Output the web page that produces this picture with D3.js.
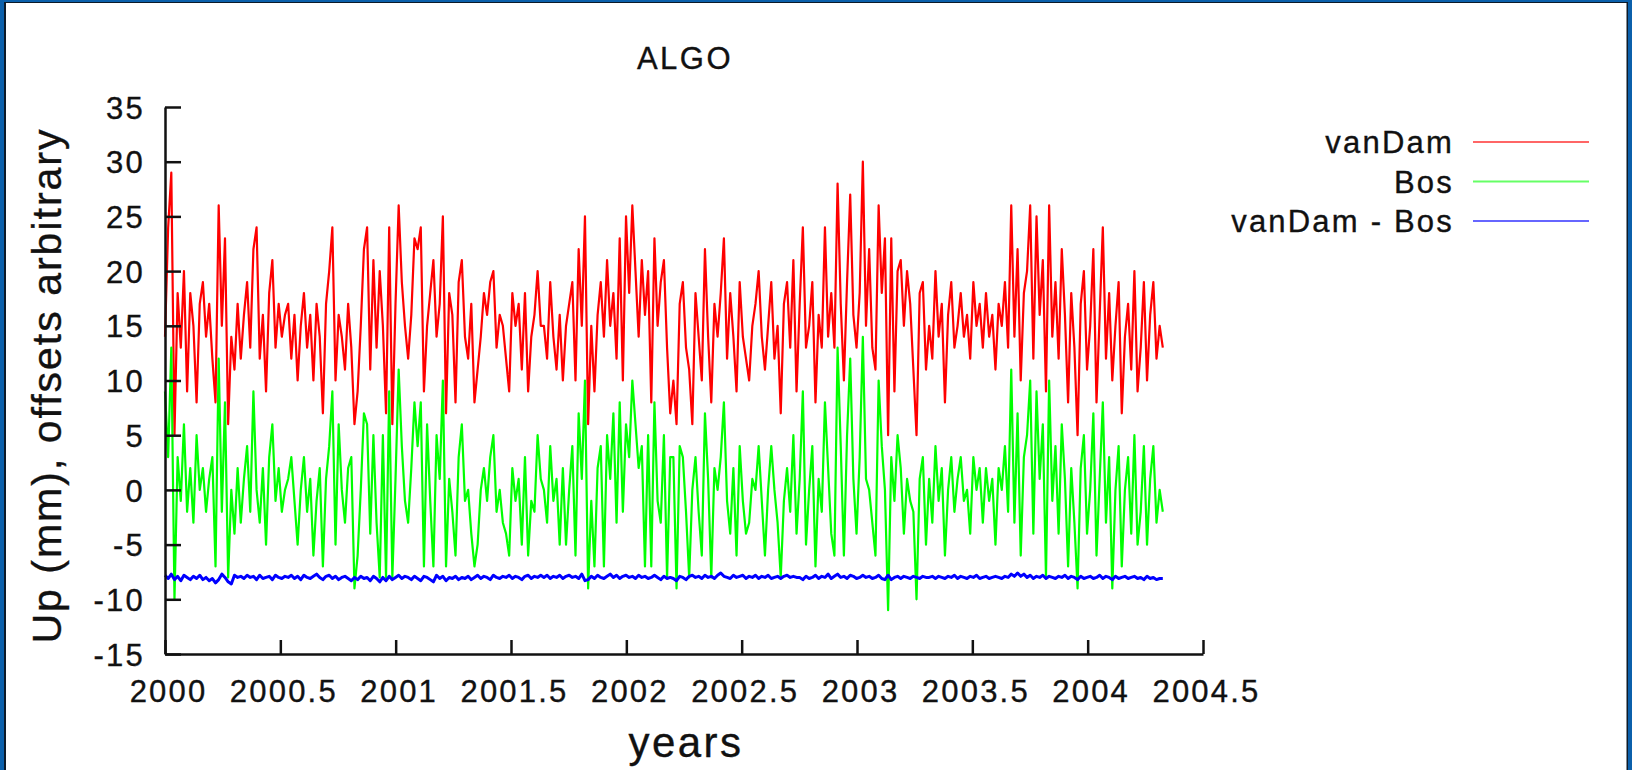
<!DOCTYPE html>
<html><head><meta charset="utf-8">
<script src="https://cdn.jsdelivr.net/npm/d3@7"></script>
<style>
html,body{margin:0;padding:0;background:#fff;}
svg{display:block;}
text{font-family:"Liberation Sans", Arial, Helvetica, sans-serif; fill:#111; stroke:#111; stroke-width:0.35px;}
</style></head><body>
<svg id="chart" width="1632" height="770"></svg>
<script>
// ---- data ----
const title = "ALGO";
const xLabel = "years";
const yLabel = "Up (mm), offsets arbitrary";
const seriesNames = ["vanDam", "Bos", "vanDam - Bos"];
const xTicks = [2000, 2000.5, 2001, 2001.5, 2002, 2002.5, 2003, 2003.5, 2004, 2004.5];
const yTicks = [-15, -10, -5, 0, 5, 10, 15, 20, 25, 30, 35];
const startYear = 2000.0;
const stepDays = 5;

const vanDam = [
 14,24,29,5,18,13,20,9,18,15, 8,17,19,14,17,12,8,26,15,23, 6,14,11,17,12,16,19,13,22,24, 12,16,9,18,21,13,17,14,16,
 17,12,16,10,15,18,13,16,10,17, 14,7,17,20,24,10,16,14,11,17, 13,6,9,15,22,24,11,21,13,20, 15,7,24,6,17,26,19,15,12,16, 23,
 22,24,9,15,18,21,14,17,25,7, 18,16,8,19,21,14,12,17,8,11, 14,18,16,19,20,13,16,15,12,9, 18,15,17,11,18,9,14,16,20,15,
 15,12,19,14,11,16,10,15,17,19, 10,22,15,25,6,15,9,16,19,14, 21,15,18,12,23,10,25,18,26,20, 14,21,16,20,8,23,15,19,21,13, 7,
 10,6,17,19,13,11,6,18,14,10, 22,14,8,17,14,18,23,12,18,14, 9,19,14,12,10,15,17,20,14,11, 15,19,12,15,7,17,19,13,21,9,
 17,24,13,15,19,8,16,13,24,14, 18,13,28,17,10,19,27,16,13,18, 30,15,22,13,11,26,18,23,5,23, 9,20,21,15,20,17,11,5,18,19, 11,
 15,12,20,14,17,8,16,19,13,15, 18,14,16,12,19,15,17,13,18,14, 16,11,17,15,19,13,26,14,22,10, 18,20,26,12,25,16,21,9,26,14,
 19,12,22,16,8,18,13,5,17,20, 11,15,22,8,16,24,12,18,10,15, 19,7,14,17,11,20,9,13,19,10, 16,19,12,15,13
];
const bos = [
 9,3,13,-10,3,-1,6,-2,2,-3, 5,0,2,-2,1,3,-7,12,-2,8, -8,0,-4,2,-3,1,4,-2,9,0, -3,2,-5,3,6,-1,2,-2,0,
 1,3,-1,-5,0,3,-2,1,-6,-1, 2,-7,1,4,9,-5,6,0,-3,2, 3,-9,-6,0,7,6,-4,5,-3,-8, 5,-8,9,-8,1,11,4,-1,-3,2, 8,
 4,8,-7,6,-1,-7,5,1,10,-7, 1,-2,-6,3,6,-1,0,-4,-7,-5, 0,2,-1,3,5,-2,0,-3,-4,-6, 2,-1,1,-5,3,-6,-1,-2,5,1,
 0,-3,4,-1,1,-5,2,-5,0,4, -6,7,1,10,-9,-1,-7,2,4,-7, 5,1,7,-3,8,-2,6,3,10,6, 2,4,-7,5,-7,8,-1,-3,5,-8, 3,
 3,-9,4,3,-2,-8,0,3,-2,-6, 7,1,-8,2,0,3,8,-1,-4,2, -6,4,-1,-4,-3,1,0,4,-1,-6, 0,4,0,-3,-8,-1,2,-2,5,-4,
 1,9,-5,0,4,-7,1,-2,8,2, -4,-6,13,4,-6,5,12,1,-4,3, 14,1,0,-3,-6,10,4,0,-11,3, -1,5,2,-4,1,-1,-2,-10,1,3, -5,
 1,-3,4,-1,2,-6,0,3,-2,1, 3,-1,0,-4,3,0,2,-3,2,-1, 1,-5,2,0,4,-2,11,-3,7,-6, 3,5,10,-4,9,1,6,-8,10,-1,
 4,-4,6,1,-7,2,-3,-9,2,5, -4,0,7,-6,1,8,-3,3,-9,0, 4,-7,0,3,-4,5,-5,-2,4,-5, 1,4,-3,0,-2
];
const vanDamMinusBos = [
 -7.8,-8.1,-7.7,-8.2,-7.9,-8.3,-7.8,-8.0,-8.2,-7.9,-8.1,-7.8,-8.2,-8.0,-8.3,-8.1,-8.5,-8.2,-7.7,-8.0,-8.4,-8.6,-7.8,-8.0,-7.9,-8.1,-7.8,-8.0,-7.9,-8.2,-7.8,-8.1,-8.0,-7.9,-8.2,-7.8,-8.0,-8.1,-7.9,
 -8.0,-7.8,-8.1,-7.9,-8.2,-7.8,-8.0,-8.1,-7.9,-7.7,-8.0,-8.2,-7.9,-7.8,-8.1,-7.9,-8.2,-8.0,-7.9,-8.1,-8.3,-8.0,-8.2,-7.9,-8.1,-8.0,-8.3,-7.9,-8.1,-8.4,-8.0,-8.3,-7.9,-8.2,-8.0,-7.8,-8.1,-7.9,-8.0,-8.2,-7.9,
 -8.1,-8.3,-7.9,-8.0,-8.2,-8.4,-7.8,-8.1,-7.9,-8.3,-8.0,-8.1,-7.9,-8.2,-8.0,-8.1,-7.9,-8.2,-8.0,-7.8,-8.1,-7.9,-8.0,-8.2,-7.8,-8.0,-8.1,-7.9,-8.0,-7.8,-8.1,-7.9,-8.0,-8.2,-7.9,-7.8,-8.1,-7.9,-8.0,-7.8,
 -8.0,-7.8,-8.1,-7.9,-8.0,-7.8,-8.1,-7.9,-7.8,-8.0,-7.9,-8.1,-7.7,-8.3,-8.2,-7.9,-8.1,-7.8,-8.0,-8.1,-7.9,-7.7,-8.0,-7.8,-8.1,-7.9,-7.8,-8.0,-7.9,-8.1,-7.8,-8.0,-7.9,-8.1,-8.0,-7.8,-8.0,-8.2,-7.9,-8.1,-8.0,
 -8.1,-8.3,-7.9,-8.0,-8.2,-7.9,-7.8,-8.0,-7.9,-8.1,-7.8,-8.0,-7.9,-8.1,-7.8,-7.6,-7.9,-8.0,-8.1,-7.8,-8.0,-7.9,-7.8,-8.1,-7.9,-8.0,-7.8,-8.1,-7.9,-8.0,-7.8,-8.1,-8.0,-7.9,-8.1,-7.9,-7.8,-8.0,-7.9,-8.0,
 -8.0,-8.2,-7.9,-8.1,-8.0,-7.8,-8.1,-7.9,-8.0,-7.7,-8.1,-7.9,-7.7,-8.0,-7.9,-8.1,-7.8,-7.9,-8.1,-8.0,-7.8,-8.0,-7.9,-8.1,-8.0,-7.8,-8.1,-8.2,-7.8,-8.2,-8.0,-7.9,-8.1,-7.9,-8.0,-8.1,-7.9,-8.0,-8.1,-7.9,-8.0,
 -8.0,-7.9,-8.1,-7.9,-8.0,-8.1,-7.9,-8.0,-7.8,-8.1,-7.9,-8.0,-8.1,-7.9,-8.0,-7.8,-8.1,-8.0,-7.9,-8.1,-8.0,-7.9,-8.0,-8.1,-7.9,-8.0,-7.7,-7.9,-7.6,-7.9,
 -7.7,-8.0,-7.8,-8.1,-7.9,-8.0,-7.8,-8.1,-7.9,-8.0,-8.1,-7.9,-8.0,-7.8,-8.1,-7.9,-8.0,-8.2,-7.9,-8.1,-8.0,-7.9,-8.1,-8.0,-7.8,-8.1,-7.9,-8.0,-8.2,-7.9,
 -8.1,-8.0,-7.9,-8.1,-8.0,-7.9,-8.1,-8.0,-8.2,-7.9,-8.1,-8.0,-8.2,-8.1,-8.1
];
const seriesColors = ["#ff0000", "#00ff00", "#0000ff"];

// ---- layout ----
const svg = d3.select("#chart");
const W = 1632, H = 770;
const plot = {left: 165, right: 1203, top: 107, bottom: 654};
const x = d3.scaleLinear().domain([2000, 2004.5]).range([plot.left, plot.right]);
const y = d3.scaleLinear().domain([-15, 35]).range([plot.bottom, plot.top]);
const fontFam = '"Liberation Sans", Arial, sans-serif';

svg.append("rect").attr("width", W).attr("height", H).attr("fill", "#fff");

// outer frame
const frameBlue = "#0b60ab", frameDark = "#0c1a28";
svg.append("rect").attr("x", 0).attr("y", 0).attr("width", 4).attr("height", H).attr("fill", frameBlue);
svg.append("rect").attr("x", 4).attr("y", 0).attr("width", 2).attr("height", H).attr("fill", frameDark);
svg.append("rect").attr("x", 0).attr("y", 0).attr("width", W).attr("height", 2).attr("fill", frameBlue);
svg.append("rect").attr("x", 4).attr("y", 2).attr("width", W - 8).attr("height", 1).attr("fill", frameDark);
svg.append("rect").attr("x", W - 4).attr("y", 0).attr("width", 4).attr("height", H).attr("fill", frameBlue);
svg.append("rect").attr("x", W - 5.5).attr("y", 2).attr("width", 1.5).attr("height", H).attr("fill", frameDark);

// series
const toPts = arr => arr.map((v, i) => [startYear + i * stepDays / 365.25, v]);
const line = d3.line().x(d => x(d[0])).y(d => y(d[1]));
const allSeries = [vanDam, bos, vanDamMinusBos];
const widths = [2.2, 2.2, 3];
allSeries.forEach((s, k) => {
  svg.append("path").datum(toPts(s))
    .attr("d", line).attr("fill", "none")
    .attr("stroke", seriesColors[k]).attr("stroke-width", widths[k])
    .attr("stroke-linejoin", "round");
});

// axes
const xAxis = d3.axisBottom(x).tickValues(xTicks).tickSizeInner(-14).tickSizeOuter(0).tickFormat(d => String(d));
const gx = svg.append("g").attr("transform", `translate(0,${plot.bottom})`).call(xAxis);
gx.select(".domain").attr("stroke", "#111").attr("stroke-width", 2.5);
gx.selectAll(".tick line").attr("stroke", "#111").attr("stroke-width", 2.5);
gx.selectAll(".tick text").attr("y", 47.5).attr("dy", 0).attr("dx", 3)
  .attr("font-size", 31).attr("letter-spacing", "2.2px").attr("fill", "#111")
  .attr("font-family", fontFam);

const yAxis = d3.axisLeft(y).tickValues(yTicks).tickSizeInner(-16).tickSizeOuter(0).tickFormat(d => String(d));
const gy = svg.append("g").attr("transform", `translate(${plot.left},0)`).call(yAxis);
gy.select(".domain").attr("stroke", "#111").attr("stroke-width", 2.5);
gy.selectAll(".tick line").attr("stroke", "#111").attr("stroke-width", 2.5);
gy.selectAll(".tick text").attr("x", -20).attr("dy", "0.36em")
  .attr("font-size", 31).attr("letter-spacing", "2.2px").attr("fill", "#111")
  .attr("font-family", fontFam);

// title and axis labels
svg.append("text").attr("x", (plot.left + plot.right) / 2 + 1).attr("y", 69)
  .attr("text-anchor", "middle").attr("font-size", 31).attr("letter-spacing", "2.5px").text(title);
svg.append("text").attr("x", (plot.left + plot.right) / 2 + 2).attr("y", 757)
  .attr("text-anchor", "middle").attr("font-size", 42).attr("letter-spacing", "2.5px").text(xLabel);
svg.append("text").attr("transform", `translate(61,${(plot.top + plot.bottom) / 2 + 5}) rotate(-90)`)
  .attr("text-anchor", "middle").attr("font-size", 41).attr("letter-spacing", "2px").text(yLabel);

// legend
seriesNames.forEach((name, i) => {
  const ly = 142 + i * 39.5;
  svg.append("text").attr("x", 1454).attr("y", ly).attr("dy", "0.36em")
    .attr("text-anchor", "end").attr("font-size", 31).attr("letter-spacing", "2.2px").text(name);
  svg.append("line").attr("x1", 1473).attr("x2", 1589).attr("y1", ly).attr("y2", ly)
    .attr("stroke", seriesColors[i]).attr("stroke-width", 2.2).attr("stroke-opacity", 0.6);
});
</script>
</body></html>
